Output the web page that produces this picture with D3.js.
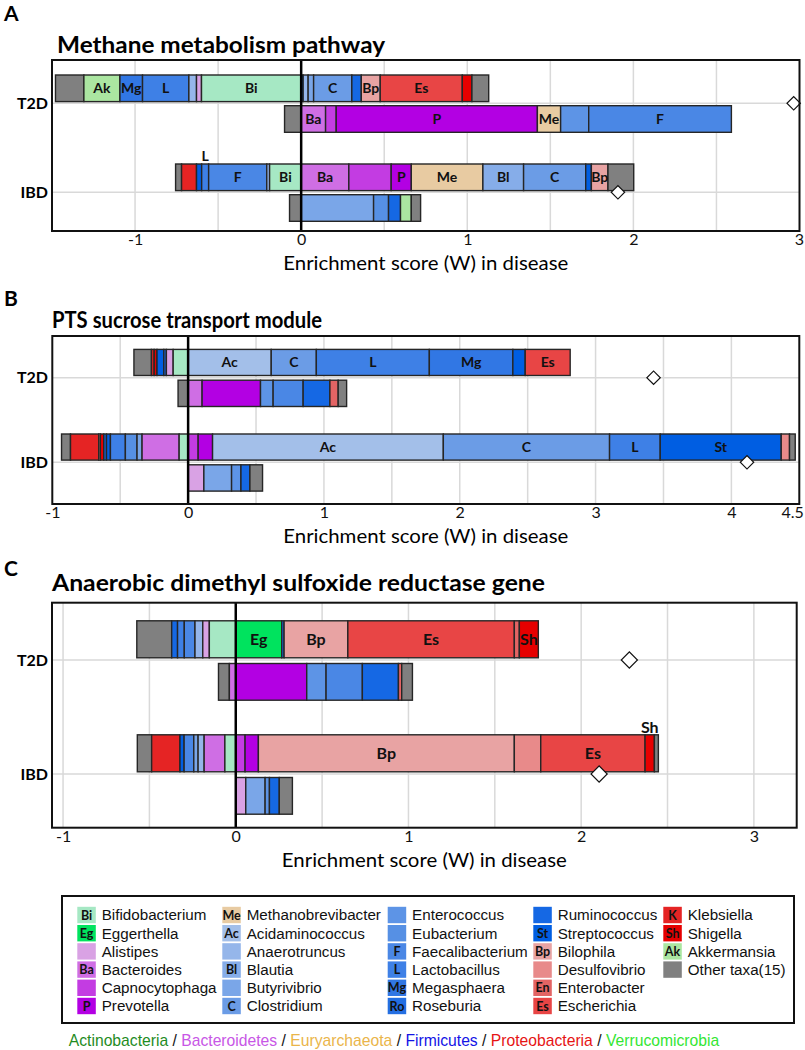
<!DOCTYPE html>
<html><head><meta charset="utf-8">
<script src="https://cdn.jsdelivr.net/npm/d3@7"></script>
<style>body{margin:0;background:#fff}svg{display:block}</style>
</head><body><svg id="c" width="805" height="1050"></svg>
<script>
// ---------- taxa (legend) ----------
const taxaKeys  = ["Bif","Egg","Ali","Bac","Cap","Pre","Met","Aci","Ana","Bla","But","Clo","Ent","Eub","Fae","Lac","Meg","Ros","Rum","Str","Bil","Des","Enb","Esc","Kle","Shi","Akk","Oth"];
const taxaNames = ["Bifidobacterium","Eggerthella","Alistipes","Bacteroides","Capnocytophaga","Prevotella","Methanobrevibacter","Acidaminococcus","Anaerotruncus","Blautia","Butyrivibrio","Clostridium","Enterococcus","Eubacterium","Faecalibacterium","Lactobacillus","Megasphaera","Roseburia","Ruminococcus","Streptococcus","Bilophila","Desulfovibrio","Enterobacter","Escherichia","Klebsiella","Shigella","Akkermansia","Other taxa(15)"];
const taxaCodes = ["Bi","Eg","","Ba","","P","Me","Ac","","Bl","","C","","","F","L","Mg","Ro","","St","Bp","","En","Es","K","Sh","Ak",""];
const taxaColors = ["#a6e8c4","#00e35e","#d9a2e4","#cf6ee4","#c33ce2","#b300e3","#e8cba2","#a3bfe9","#95b6ea","#86ade9","#7aa6e8","#6b9ce6","#5d94e6","#5690e4","#4a87e5","#3e80e6","#3177e4","#246fe2","#1568e4","#005ee2","#e8a3a3","#e88a8a","#e36464","#e84545","#e52424","#e60000","#abe6a1","#808080"];

const diseases = ["T2D","IBD"];

// ---------- Panel A: Methane metabolism pathway ----------
const methaneT2DTop = [["Oth",-1.479,-1.308],["Akk",-1.308,-1.091,"in"],["Meg",-1.091,-0.955,"in"],["Lac",-0.955,-0.676,"in"],["Ana",-0.676,-0.630],["Ali",-0.630,-0.600],["Bif",-0.600,0,"in"],["Str",0,0.012],["Ana",0.012,0.042],["But",0.042,0.075],["Clo",0.075,0.305,"in"],["Rum",0.305,0.362],["Bil",0.362,0.476,"in"],["Esc",0.476,0.970,"in"],["Shi",0.970,1.028],["Oth",1.028,1.129]];
const methaneT2DBottom = [["Oth",-0.100,0],["Bac",0,0.147,"in"],["Cap",0.147,0.211],["Pre",0.211,1.422,"in"],["Met",1.422,1.562,"in"],["Ent",1.562,1.731],["Fae",1.731,2.590,"in"]];
const methaneIBDTop = [["Oth",-0.756,-0.720],["Kle",-0.720,-0.630],["Str",-0.630,-0.599],["Lac",-0.599,-0.557,"up"],["Fae",-0.557,-0.207,"in"],["Ana",-0.207,-0.190],["Bif",-0.190,0,"in"],["Bac",0,0.287,"in"],["Cap",0.287,0.542],["Pre",0.542,0.663,"in"],["Met",0.663,1.094,"in"],["Bla",1.094,1.339,"in"],["Clo",1.339,1.713,"in"],["Str",1.713,1.747],["Bil",1.747,1.847,"in"],["Oth",1.847,2.002]];
const methaneIBDBottom = [["Oth",-0.070,0],["But",0,0.436],["Eub",0.436,0.526],["Rum",0.526,0.598],["Akk",0.598,0.663],["Oth",0.663,0.719]];
const methaneShift = [2.965, 1.907];
const methaneTicks = [-1,0,1,2,3];

// ---------- Panel B: PTS sucrose transport module ----------
const ptsT2DTop = [["Oth",-0.399,-0.270],["Kle",-0.270,-0.250],["Shi",-0.250,-0.229],["Str",-0.229,-0.179],["Rum",-0.179,-0.160],["Ali",-0.160,-0.110],["Bif",-0.110,0],["Aci",0,0.612,"in"],["Clo",0.612,0.944,"in"],["Lac",0.944,1.776,"in"],["Meg",1.776,2.391,"in"],["Str",2.391,2.482],["Esc",2.482,2.813,"in"]];
const ptsT2DBottom = [["Oth",-0.074,0],["Bac",0,0.103],["Pre",0.103,0.533],["Ent",0.533,0.626],["Fae",0.626,0.847],["Rum",0.847,1.044],["Enb",1.044,1.105],["Oth",1.105,1.167]];
const ptsIBDTop = [["Oth",-0.932,-0.866],["Kle",-0.866,-0.658],["Des",-0.658,-0.646],["Shi",-0.646,-0.621],["Rum",-0.621,-0.601],["Str",-0.601,-0.572],["Lac",-0.572,-0.462],["Eub",-0.462,-0.376],["But",-0.376,-0.339],["Bac",-0.339,-0.066],["Bif",-0.066,0],["Cap",0,0.074],["Pre",0.074,0.180],["Aci",0.180,1.879,"in"],["Clo",1.879,3.103,"in"],["Lac",3.103,3.476,"in"],["Str",3.476,4.367,"in"],["Des",4.367,4.428],["Oth",4.428,4.470]];
const ptsIBDBottom = [["Ali",0,0.116],["But",0.116,0.320],["Ent",0.320,0.389],["Rum",0.389,0.455],["Oth",0.455,0.548]];
const ptsShift = [3.427, 4.115];
const ptsTicks = [-1,0,1,2,3,4,4.5];

// ---------- Panel C: Anaerobic dimethyl sulfoxide reductase gene ----------
const dmsoT2DTop = [["Oth",-0.573,-0.371],["Rum",-0.371,-0.337],["Lac",-0.337,-0.298],["Fae",-0.298,-0.236],["Ana",-0.236,-0.191],["Ali",-0.191,-0.153],["Bif",-0.153,0],["Egg",0,0.266,"in"],["Rum",0.266,0.280],["Bil",0.280,0.649,"in"],["Esc",0.649,1.613,"in"],["Enb",1.613,1.642],["Shi",1.642,1.752,"in"]];
const dmsoT2DBottom = [["Oth",-0.100,-0.037],["Bac",-0.037,0],["Pre",0,0.411],["Ent",0.411,0.523],["Fae",0.523,0.733],["Rum",0.733,0.942],["Enb",0.942,0.961],["Oth",0.961,1.023]];
const dmsoIBDTop = [["Oth",-0.570,-0.487],["Kle",-0.487,-0.323],["Str",-0.323,-0.299],["Fae",-0.299,-0.243],["But",-0.243,-0.218],["Ana",-0.218,-0.183],["Bac",-0.183,-0.063],["Bif",-0.063,0],["Cap",0,0.054],["Pre",0.054,0.131],["Bil",0.131,1.613,"in"],["Des",1.613,1.766],["Esc",1.766,2.370,"in"],["Shi",2.370,2.424,"up"],["Oth",2.424,2.447]];
const dmsoIBDBottom = [["Ali",0,0.058],["But",0.058,0.170],["Ent",0.170,0.195],["Rum",0.195,0.252],["Oth",0.252,0.328]];
const dmsoShift = [2.279, 2.104];
const dmsoTicks = [-1,0,1,2,3];

const phyla = ["Actinobacteria","Bacteroidetes","Euryarchaeota","Firmicutes","Proteobacteria","Verrucomicrobia"];

// ---------- layout / style ----------
const CAL = "Lato, 'Open Sans', sans-serif";
const ARIAL = "'Liberation Sans', Arial, sans-serif";
const colorOf = d3.scaleOrdinal().domain(taxaKeys).range(taxaColors);
const codeOf = k => taxaCodes[taxaKeys.indexOf(k)];

const panels = [
  {letter:"A", letterY:21, title:"Methane metabolism pathway", titleX:57, titleY:53, titleW:328,
   box:[52,60,799.5,231], domain:[-1.5,3], ticks:methaneTicks, rows:[103.3,192.3],
   up:[-28.3,-1.7], down:[2.4,29], fs:14, dsize:90,
   bars:[[methaneT2DTop,methaneT2DBottom],[methaneIBDTop,methaneIBDBottom]], shift:methaneShift},
  {letter:"B", letterY:306, title:"PTS sucrose transport module", titleX:52, titleY:328, titleW:270,
   box:[52.3,336,799.3,504], domain:[-1,4.5], ticks:ptsTicks, rows:[377.7,462.3],
   up:[-28.3,-2.2], down:[2.5,28.8], fs:14, dsize:90,
   bars:[[ptsT2DTop,ptsT2DBottom],[ptsIBDTop,ptsIBDBottom]], shift:ptsShift},
  {letter:"C", letterY:576, title:"Anaerobic dimethyl sulfoxide reductase gene", titleX:52, titleY:591, titleW:493,
   box:[52,602.7,796.7,827.7], domain:[-1.064,3.248], ticks:dmsoTicks, rows:[660,774],
   up:[-39.2,-2.2], down:[3.5,40.2], fs:16, dsize:130,
   bars:[[dmsoT2DTop,dmsoT2DBottom],[dmsoIBDTop,dmsoIBDBottom]], shift:dmsoShift}
];

const svg = d3.select("#c");

panels.forEach(p => {
  const [bx0,by0,bx1,by1] = p.box;
  const g = svg.append("g");
  const x = d3.scaleLinear().domain(p.domain).range([bx0,bx1]);
  const y = d3.scalePoint().domain(diseases).range(p.rows);

  // letter & title
  g.append("text").attr("x",4).attr("y",p.letterY).attr("font-family",CAL).attr("font-weight","bold")
    .attr("font-size",21).text(p.letter);
  g.append("text").attr("x",p.titleX).attr("y",p.titleY).attr("font-family",CAL).attr("font-weight","bold")
    .attr("font-size",23).attr("textLength",p.titleW).attr("lengthAdjust","spacingAndGlyphs").text(p.title);

  // grid
  const gridVals = d3.range(Math.ceil(p.domain[0]*2)/2, p.domain[1]+1e-6, 0.5)
    .filter(v => Math.abs(v)>1e-6 && x(v)>bx0+2 && x(v)<bx1-2);
  g.selectAll(null).data(gridVals).join("line")
    .attr("x1",d=>x(d)).attr("x2",d=>x(d)).attr("y1",by0).attr("y2",by1)
    .attr("stroke","#d9d9d9").attr("stroke-width",1.5);
  g.selectAll(null).data(diseases).join("line")
    .attr("x1",bx0).attr("x2",bx1).attr("y1",d=>y(d)).attr("y2",d=>y(d))
    .attr("stroke","#d9d9d9").attr("stroke-width",1.5);

  // bars
  diseases.forEach((dis,di) => {
    [p.up,p.down].forEach((off,bi) => {
      const segs = p.bars[di][bi];
      const y0 = y(dis)+off[0], y1 = y(dis)+off[1];
      g.selectAll(null).data(segs).join("rect")
        .attr("x",d=>x(d[1])).attr("width",d=>x(d[2])-x(d[1]))
        .attr("y",y0).attr("height",y1-y0)
        .attr("fill",d=>colorOf(d[0])).attr("stroke","#262626").attr("stroke-width",1.4);
      g.selectAll(null).data(segs.filter(d=>d[3])).join("text")
        .attr("x",d=>(x(d[1])+x(d[2]))/2)
        .attr("y",d=> d[3]==="in" ? (y0+y1)/2 : y0-8)
        .attr("dy","0.36em").attr("text-anchor","middle")
        .attr("font-family",CAL).attr("font-weight","bold").attr("font-size",p.fs)
        .attr("fill","#111").text(d=>codeOf(d[0]));
    });
  });

  // zero line
  g.append("line").attr("x1",x(0)).attr("x2",x(0)).attr("y1",by0).attr("y2",by1)
    .attr("stroke","#000").attr("stroke-width",2.5);

  // diamonds (overall shift)
  g.selectAll(null).data(p.shift).join("path")
    .attr("d", d3.symbol(d3.symbolSquare, p.dsize)())
    .attr("transform",(d,i)=>`translate(${x(d)},${y(diseases[i])}) rotate(45)`)
    .attr("fill","#fff").attr("stroke","#111").attr("stroke-width",1.2);

  // box
  g.append("rect").attr("x",bx0).attr("y",by0).attr("width",bx1-bx0).attr("height",by1-by0)
    .attr("fill","none").attr("stroke","#111").attr("stroke-width",2);

  // row labels
  g.selectAll(null).data(diseases).join("text")
    .attr("x",48).attr("y",d=>y(d)).attr("dy","0.36em").attr("text-anchor","end")
    .attr("font-family",CAL).attr("font-weight","bold").attr("font-size",16).text(d=>d);

  // x axis
  const ax = d3.axisBottom(x).tickValues(p.ticks).tickSize(0).tickPadding(3).tickFormat(d=>String(d));
  const axG = g.append("g").attr("transform",`translate(0,${by1})`).call(ax);
  axG.select(".domain").remove();
  axG.selectAll("text").attr("font-family",CAL).attr("font-size",16).attr("fill","#111");
  axG.selectAll(".tick").filter(d=>x(d)>bx1-6).select("text").attr("text-anchor","end").attr("dx",4);
  g.append("text").attr("x",(bx0+bx1)/2).attr("y",by1+39).attr("text-anchor","middle")
    .attr("font-family",CAL).attr("font-size",19).attr("textLength",285).attr("lengthAdjust","spacingAndGlyphs")
    .text("Enrichment score (W) in disease");
});

// ---------- legend ----------
const lg = svg.append("g");
lg.append("rect").attr("x",62).attr("y",896).attr("width",732).attr("height",127)
  .attr("fill","#fff").attr("stroke","#111").attr("stroke-width",2);
const colX = [77.3,222.3,387.7,533.3,663.3];
const items = taxaKeys.map((k,i)=>({k,i,col:Math.floor(i/6),row:i%6}));
const it = lg.selectAll(null).data(items).join("g")
  .attr("transform",d=>`translate(${colX[d.col]},${915+d.row*18.2})`);
it.append("rect").attr("x",0).attr("y",-8.2).attr("width",18.5).attr("height",16.4)
  .attr("fill",d=>taxaColors[d.i]);
it.append("text").attr("x",9.25).attr("y",0).attr("dy","0.36em").attr("text-anchor","middle")
  .attr("font-family",CAL).attr("font-weight","bold").attr("font-size",12.5).attr("fill","#111")
  .text(d=>taxaCodes[d.i]);
it.append("text").attr("x",24.4).attr("y",0).attr("dy","0.36em")
  .attr("font-family",ARIAL).attr("font-size",15.2).attr("fill","#111")
  .text(d=>taxaNames[d.i]);

// phyla line
const phylaColors = ["#1f8c1f","#c857e6","#eab54a","#1414e6","#e61414","#33e633"];
const pt = svg.append("text").attr("x",394).attr("y",1046).attr("text-anchor","middle")
  .attr("font-family",ARIAL).attr("font-size",15.7);
phyla.forEach((ph,i)=>{
  pt.append("tspan").attr("fill",phylaColors[i]).text(ph);
  if(i<phyla.length-1) pt.append("tspan").attr("fill","#111").text(" / ");
});
</script></body></html>
